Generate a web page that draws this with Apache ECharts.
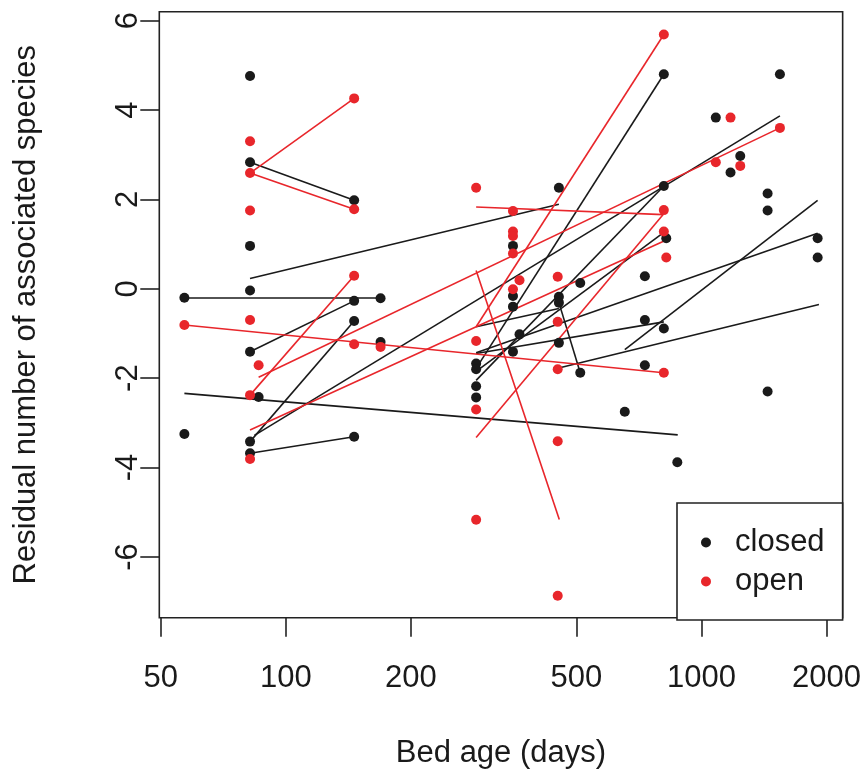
<!DOCTYPE html>
<html>
<head>
<meta charset="utf-8">
<script src="https://cdn.jsdelivr.net/npm/echarts@6/dist/echarts.min.js"></script>
<style>
html,body{margin:0;padding:0;background:#fff;}
#chart{width:864px;height:776px;}
</style>
</head>
<body>
<div id="chart"></div>
<script>
// ---- data ----
const xTicks = [50, 100, 200, 500, 1000, 2000];
const yTicks = [-6, -4, -2, 0, 2, 4, 6];

const closedAge = [57, 57, 82, 82, 82, 82, 82, 82, 82, 86, 146, 146, 146, 146, 169, 169,
  287, 287, 287, 287, 352, 352, 352, 352, 365, 454, 454, 454, 454, 511, 511, 654,
  731, 731, 731, 812, 812, 812, 823, 875, 1083, 1175, 1240, 1443, 1443, 1443, 1545, 1904, 1904];
const closedResid = [-0.20, -3.25, 4.76, 2.83, 0.96, -0.04, -1.41, -3.42, -3.68, -2.42, 1.98, -0.27, -0.72, -3.31, -0.21, -1.19,
  -1.67, -1.80, -2.18, -2.43, 0.96, -0.16, -0.40, -1.41, -1.02, 2.26, -0.18, -0.31, -1.21, 0.13, -1.88, -2.75,
  0.28, -0.70, -1.71, 4.80, 2.30, -0.89, 1.13, -3.88, 3.83, 2.60, 2.97, 2.13, 1.75, -2.30, 4.80, 1.13, 0.70];

const openAge = [57, 82, 82, 82, 82, 82, 82, 86, 146, 146, 146, 146, 169, 287, 287, 287, 287,
  352, 352, 352, 352, 352, 365, 451, 451, 451, 451, 451, 812, 812, 812, 812, 823, 1083, 1175, 1240, 1545];
const openResid = [-0.81, 3.30, 2.59, 1.75, -0.70, -2.38, -3.81, -1.71, 4.26, 1.78, 0.29, -1.24, -1.30, 2.26, -1.17, -2.70, -5.17,
  1.74, 1.28, 1.18, 0.79, -0.01, 0.19, 0.27, -0.74, -1.80, -3.41, -6.87, 5.69, 1.76, 1.28, -1.88, 0.70, 2.83, 3.83, 2.75, 3.60];

// fitted segments: [age1, resid1, age2, resid2]
const closedFits = [
  [57, -0.20, 169, -0.20], [82, 2.83, 146, 1.98], [82, 0.23, 454, 1.89], [82, -1.41, 146, -0.27],
  [82, -3.42, 146, -0.72], [82, -3.68, 146, -3.31], [57, -2.34, 877, -3.27], [84, -3.28, 1545, 3.87],
  [287, -1.78, 812, 4.80], [287, -2.05, 812, 2.30], [287, -1.85, 823, 1.30], [287, -1.43, 1904, 1.24],
  [287, -1.45, 812, -0.74], [287, -0.85, 454, -0.44], [454, -0.31, 511, -1.88], [451, -1.78, 1918, -0.35],
  [654, -1.36, 1904, 1.98]
];
const openFits = [
  [82, 2.59, 146, 4.26], [82, 2.59, 146, 1.78], [82, -2.38, 146, 0.29], [86, -1.98, 1545, 3.60],
  [82, -3.16, 823, 1.09], [57, -0.81, 811, -1.88], [287, 1.83, 809, 1.66], [287, -0.85, 812, 5.69],
  [287, 0.41, 455, -5.16], [287, -3.33, 809, 1.66]
];

const BLACK = '#1a1a1a';
const RED = '#e8262b';
const FONT = "'Liberation Sans', Arial, Helvetica, sans-serif";
const FS = 31;

const zipPts = (xs, ys) => xs.map((x, i) => [x, ys[i]]);
const toLines = fits => fits.map(f => ({ coords: [[f[0], f[1]], [f[2], f[3]]] }));

const chart = echarts.init(document.getElementById('chart'), null, { renderer: 'canvas' });
chart.setOption({
  animation: false,
  backgroundColor: '#fff',
  grid: {
    left: 159.3, right: 21.3, top: 11.7, bottom: 158.3,
    show: true, borderColor: '#222', borderWidth: 1.6, backgroundColor: 'transparent'
  },
  xAxis: {
    type: 'log', logBase: 10, min: 49.6, max: 2187,
    name: 'Bed age (days)', nameLocation: 'middle', nameGap: 120,
    nameTextStyle: { fontSize: FS, color: BLACK, fontFamily: FONT },
    axisLine: { show: false, onZero: false },
    axisTick: { show: true, inside: false, length: 19, customValues: xTicks, lineStyle: { color: '#222', width: 1.6 } },
    axisLabel: { customValues: xTicks, margin: 45, fontSize: FS, color: BLACK, fontFamily: FONT,
      formatter: v => String(Math.round(v)) },
    splitLine: { show: false }, minorTick: { show: false }
  },
  yAxis: {
    type: 'value', min: -7.36, max: 6.2,
    name: 'Residual number of associated species', nameLocation: 'middle', nameGap: 117,
    nameTextStyle: { fontSize: FS, color: BLACK, fontFamily: FONT },
    axisLine: { show: false, onZero: false },
    axisTick: { show: true, inside: false, length: 19, customValues: yTicks, lineStyle: { color: '#222', width: 1.6 } },
    axisLabel: { customValues: yTicks, rotate: 90, margin: 15, fontSize: FS, color: BLACK, fontFamily: FONT },
    splitLine: { show: false }
  },
  legend: {
    orient: 'vertical', left: 677, top: 503,
    padding: [24, 18, 23, 24], itemGap: 8, itemWidth: 48, itemHeight: 10,
    borderColor: '#222', borderWidth: 1.6, backgroundColor: '#fff', borderRadius: 0,
    selectedMode: false,
    textStyle: { fontSize: FS, color: BLACK, fontFamily: FONT, lineHeight: 30 },
    data: [{ name: 'closed', icon: 'circle' }, { name: 'open', icon: 'circle' }]
  },
  series: [
    { type: 'lines', name: 'closed fits', coordinateSystem: 'cartesian2d', polyline: false, silent: true, z: 2,
      lineStyle: { color: BLACK, width: 1.6, opacity: 1, curveness: 0 }, data: toLines(closedFits) },
    { type: 'lines', name: 'open fits', coordinateSystem: 'cartesian2d', polyline: false, silent: true, z: 2,
      lineStyle: { color: RED, width: 1.6, opacity: 1, curveness: 0 }, data: toLines(openFits) },
    { type: 'scatter', name: 'closed', symbol: 'circle', symbolSize: 10, z: 3,
      itemStyle: { color: BLACK, opacity: 1 }, data: zipPts(closedAge, closedResid) },
    { type: 'scatter', name: 'open', symbol: 'circle', symbolSize: 10, z: 4,
      itemStyle: { color: RED, opacity: 1 }, data: zipPts(openAge, openResid) }
  ]
});
</script>
</body>
</html>
